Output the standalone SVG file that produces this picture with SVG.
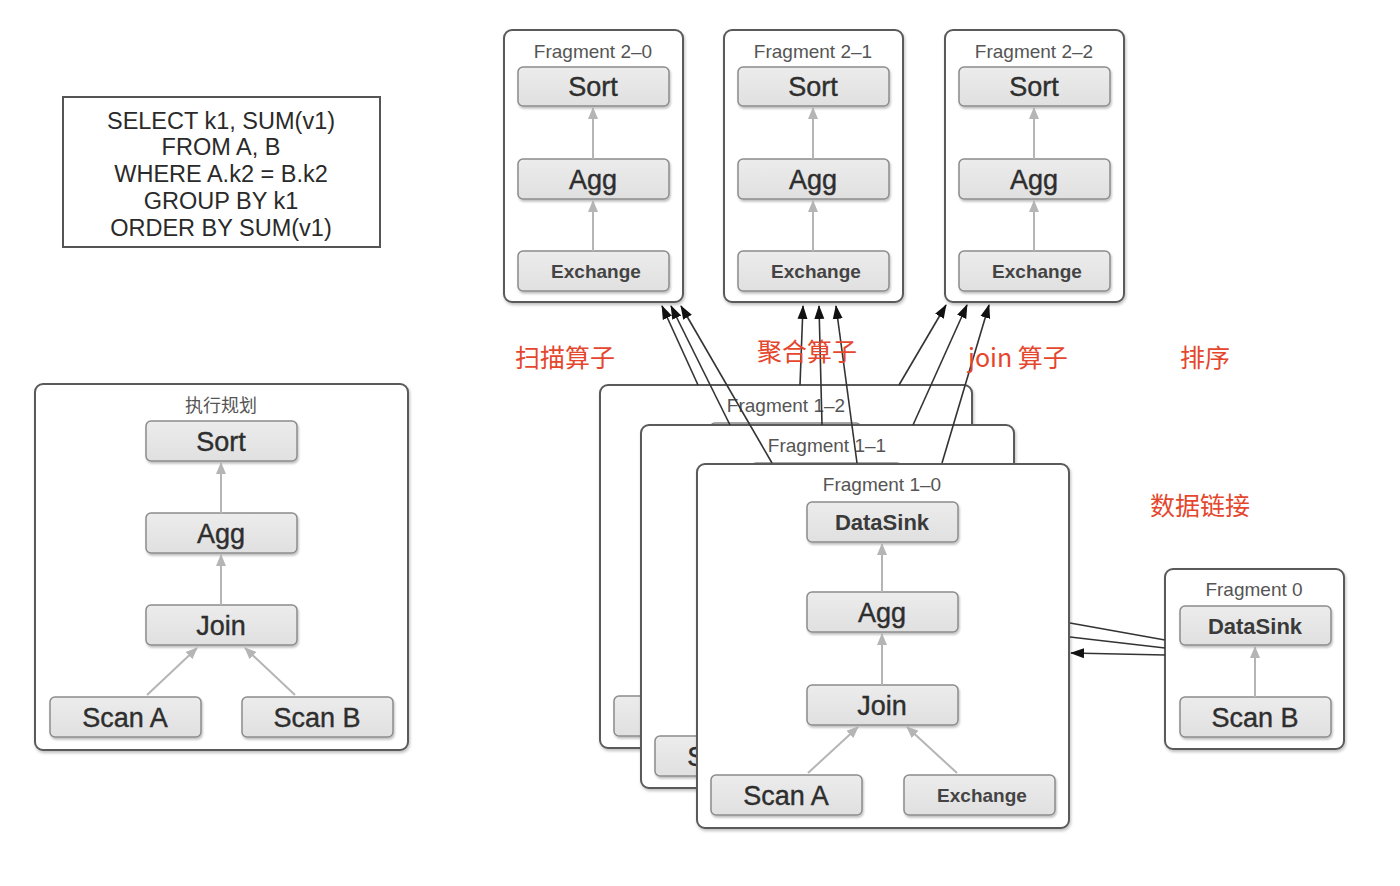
<svg xmlns="http://www.w3.org/2000/svg" width="1400" height="886" viewBox="0 0 1400 886">
<defs>
<style>
.frag{fill:#fff;stroke:#5a5a5a;stroke-width:2;filter:url(#sh)}
.nd{fill:url(#g);stroke:#8c8c8c;stroke-width:1.5;filter:url(#sh2)}
.t{font-family:"Liberation Sans",Arial,sans-serif;fill:#2e2e2e;text-anchor:middle}
.big{font-size:27px;stroke:#2e2e2e;stroke-width:0.4}
.mid{font-size:22px;font-weight:bold;fill:#3a3a3a}
.ex{font-size:19px;font-weight:bold;fill:#444}
.ft{font-family:"Liberation Sans",Arial,sans-serif;font-size:19px;fill:#555;text-anchor:middle}
.ga{stroke:#b5b5b5;stroke-width:2;fill:none;marker-end:url(#gm)}
.ba{stroke:#333;stroke-width:1.6;fill:none}
.baa{marker-end:url(#bm)}
.red{font-family:"Noto Sans CJK SC","Liberation Sans",sans-serif;font-size:25px;fill:#e4472d}
.sql{font-family:"Liberation Sans",Arial,sans-serif;font-size:23.5px;fill:#2a2a2a;text-anchor:middle}
</style>
<linearGradient id="g" x1="0" y1="0" x2="0" y2="1"><stop offset="0" stop-color="#ececec"/><stop offset="1" stop-color="#e0e0e0"/></linearGradient>
<filter id="sh" x="-5%" y="-5%" width="110%" height="110%"><feDropShadow dx="1" dy="2" stdDeviation="1.5" flood-opacity="0.25"/></filter>
<filter id="sh2" x="-5%" y="-10%" width="110%" height="130%"><feDropShadow dx="1" dy="2" stdDeviation="1.2" flood-opacity="0.25"/></filter>
<marker id="gm" markerUnits="userSpaceOnUse" markerWidth="12" markerHeight="12" viewBox="0 0 12 12" refX="11" refY="6" orient="auto"><path d="M0,1 L12,6 L0,11 Z" fill="#b5b5b5"/></marker>
<marker id="bm" markerUnits="userSpaceOnUse" markerWidth="14" markerHeight="12" viewBox="0 0 14 12" refX="13" refY="6" orient="auto"><path d="M0,1 L14,6 L0,11 Z" fill="#111"/></marker>
</defs>
<rect width="1400" height="886" fill="#fff"/>

<g id="sql-box">
<rect x="63" y="97" width="317" height="150" fill="#fff" stroke="#555" stroke-width="2"/>
<text class="sql" x="221" y="129">SELECT k1, SUM(v1)</text>
<text class="sql" x="221" y="155">FROM A, B</text>
<text class="sql" x="221" y="182">WHERE A.k2 = B.k2</text>
<text class="sql" x="221" y="209">GROUP BY k1</text>
<text class="sql" x="221" y="236">ORDER BY SUM(v1)</text>
</g>

<g id="plan">
<rect class="frag" x="35" y="384" width="373" height="366" rx="8"/>
<text class="ft" x="221" y="412" style="font-family:'Noto Sans CJK SC',sans-serif;font-size:18px">执行规划</text>
<rect class="nd" x="146" y="421" width="151" height="40" rx="5"/><text class="t big" x="221" y="451">Sort</text>
<rect class="nd" x="146" y="513" width="151" height="40" rx="5"/><text class="t big" x="221" y="543">Agg</text>
<rect class="nd" x="146" y="605" width="151" height="40" rx="5"/><text class="t big" x="221" y="635">Join</text>
<rect class="nd" x="50" y="697" width="151" height="40" rx="5"/><text class="t big" x="125" y="727">Scan A</text>
<rect class="nd" x="242" y="697" width="151" height="40" rx="5"/><text class="t big" x="317" y="727">Scan B</text>
<line class="ga" x1="221" y1="513" x2="221" y2="463"/>
<line class="ga" x1="221" y1="605" x2="221" y2="555"/>
<line class="ga" x1="147" y1="695" x2="197" y2="648"/>
<line class="ga" x1="295" y1="695" x2="245" y2="648"/>
</g>

<g id="frag2-0">
<rect class="frag" x="504" y="30" width="179" height="272" rx="8"/>
<text class="ft" x="593" y="58">Fragment 2–0</text>
<rect class="nd" x="518" y="67" width="151" height="39" rx="5"/><text class="t big" x="593" y="96">Sort</text>
<rect class="nd" x="518" y="159" width="151" height="40" rx="5"/><text class="t big" x="593" y="189">Agg</text>
<rect class="nd" x="518" y="251" width="151" height="40" rx="5"/><text class="t ex" x="596" y="278">Exchange</text>
<line class="ga" x1="593" y1="159" x2="593" y2="108"/>
<line class="ga" x1="593" y1="251" x2="593" y2="201"/>
</g>
<g id="frag2-1">
<rect class="frag" x="724" y="30" width="179" height="272" rx="8"/>
<text class="ft" x="813" y="58">Fragment 2–1</text>
<rect class="nd" x="738" y="67" width="151" height="39" rx="5"/><text class="t big" x="813" y="96">Sort</text>
<rect class="nd" x="738" y="159" width="151" height="40" rx="5"/><text class="t big" x="813" y="189">Agg</text>
<rect class="nd" x="738" y="251" width="151" height="40" rx="5"/><text class="t ex" x="816" y="278">Exchange</text>
<line class="ga" x1="813" y1="159" x2="813" y2="108"/>
<line class="ga" x1="813" y1="251" x2="813" y2="201"/>
</g>
<g id="frag2-2">
<rect class="frag" x="945" y="30" width="179" height="272" rx="8"/>
<text class="ft" x="1034" y="58">Fragment 2–2</text>
<rect class="nd" x="959" y="67" width="151" height="39" rx="5"/><text class="t big" x="1034" y="96">Sort</text>
<rect class="nd" x="959" y="159" width="151" height="40" rx="5"/><text class="t big" x="1034" y="189">Agg</text>
<rect class="nd" x="959" y="251" width="151" height="40" rx="5"/><text class="t ex" x="1037" y="278">Exchange</text>
<line class="ga" x1="1034" y1="159" x2="1034" y2="108"/>
<line class="ga" x1="1034" y1="251" x2="1034" y2="201"/>
</g>

<g id="frag1-2">
<rect class="frag" x="600" y="385" width="372" height="363" rx="8"/>
<text class="ft" x="786" y="412">Fragment 1–2</text>
<rect class="nd" x="710" y="423" width="151" height="40" rx="5"/>
<rect class="nd" x="710" y="513" width="151" height="40" rx="5"/>
<rect class="nd" x="710" y="606" width="151" height="40" rx="5"/>
<rect class="nd" x="614" y="696" width="151" height="40" rx="5"/>
<rect class="nd" x="807" y="696" width="151" height="40" rx="5"/>
</g>
<g id="frag1-1">
<rect class="frag" x="641" y="425" width="373" height="363" rx="8"/>
<text class="ft" x="827" y="452">Fragment 1–1</text>
<rect class="nd" x="751" y="463" width="151" height="40" rx="5"/>
<rect class="nd" x="751" y="553" width="151" height="40" rx="5"/>
<rect class="nd" x="751" y="646" width="151" height="40" rx="5"/>
<rect class="nd" x="655" y="736" width="151" height="40" rx="5"/><text class="t big" x="730" y="766">Scan A</text>
<rect class="nd" x="848" y="736" width="151" height="40" rx="5"/>
</g>
<g id="frag1-0">
<rect class="frag" x="697" y="464" width="372" height="364" rx="8"/>
<text class="ft" x="882" y="491">Fragment 1–0</text>
<rect class="nd" x="807" y="502" width="151" height="40" rx="5"/><text class="t mid" x="882" y="530">DataSink</text>
<rect class="nd" x="807" y="592" width="151" height="40" rx="5"/><text class="t big" x="882" y="622">Agg</text>
<rect class="nd" x="807" y="685" width="151" height="40" rx="5"/><text class="t big" x="882" y="715">Join</text>
<rect class="nd" x="711" y="775" width="151" height="40" rx="5"/><text class="t big" x="786" y="805">Scan A</text>
<rect class="nd" x="904" y="775" width="151" height="40" rx="5"/><text class="t ex" x="982" y="802">Exchange</text>
<line class="ga" x1="882" y1="592" x2="882" y2="544"/>
<line class="ga" x1="882" y1="685" x2="882" y2="634"/>
<line class="ga" x1="808" y1="773" x2="858" y2="727"/>
<line class="ga" x1="957" y1="773" x2="907" y2="727"/>
</g>

<g id="frag0">
<rect class="frag" x="1165" y="569" width="179" height="180" rx="8"/>
<text class="ft" x="1254" y="596">Fragment 0</text>
<rect class="nd" x="1180" y="606" width="151" height="39" rx="5"/><text class="t mid" x="1255" y="634">DataSink</text>
<rect class="nd" x="1180" y="697" width="151" height="40" rx="5"/><text class="t big" x="1255" y="727">Scan B</text>
<line class="ga" x1="1255" y1="697" x2="1255" y2="647"/>
</g>

<g id="connectors">
<line class="ba baa" x1="698" y1="385" x2="662" y2="306"/>
<line class="ba baa" x1="730" y1="425" x2="671" y2="306"/>
<line class="ba baa" x1="772" y1="463" x2="681" y2="306"/>
<line class="ba baa" x1="800" y1="385" x2="803" y2="306"/>
<line class="ba baa" x1="822" y1="425" x2="819" y2="306"/>
<line class="ba baa" x1="857" y1="463" x2="836" y2="306"/>
<line class="ba baa" x1="899" y1="385" x2="946" y2="305"/>
<line class="ba baa" x1="913" y1="425" x2="967" y2="305"/>
<line class="ba baa" x1="942" y1="463" x2="989" y2="305"/>
<line class="ba" x1="1165" y1="640" x2="1070" y2="623"/>
<line class="ba" x1="1165" y1="648" x2="1070" y2="637"/>
<line class="ba baa" x1="1165" y1="655" x2="1071" y2="653"/>
</g>

<g id="labels">
<text class="red" x="515" y="367">扫描算子</text>
<text class="red" x="757" y="361">聚合算子</text>
<text class="red" x="968" y="367">join 算子</text>
<text class="red" x="1180" y="367">排序</text>
<text class="red" x="1150" y="515">数据链接</text>
</g>
</svg>
